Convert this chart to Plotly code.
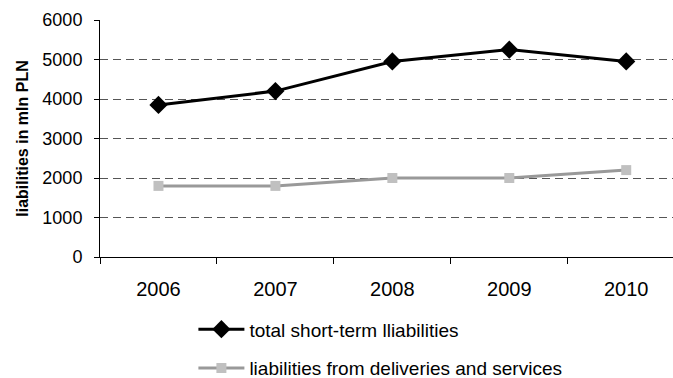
import plotly.graph_objects as go

years = ["2006", "2007", "2008", "2009", "2010"]
total_short_term = [3850, 4200, 4950, 5250, 4950]
deliveries_services = [1800, 1800, 2000, 2000, 2200]
y_ticks = [0, 1000, 2000, 3000, 4000, 5000, 6000]

FONT = "Liberation Sans, Arial, sans-serif"

fig = go.Figure()
fig.add_trace(go.Scatter(
    x=years, y=total_short_term, mode="lines+markers",
    name="total short-term lliabilities", legendgroup="a",
    line=dict(color="black", width=3),
    marker=dict(symbol="diamond", size=14, color="black"),
))
fig.add_trace(go.Scatter(
    x=years, y=deliveries_services, mode="lines+markers",
    name="liabilities from deliveries and services", legendgroup="b",
    line=dict(color="#999999", width=3),
    marker=dict(symbol="square", size=10, color="#c0c0c0"),
))

fig.update_layout(
    width=673, height=378,
    margin=dict(l=100, r=0, t=20, b=121, autoexpand=False),
    paper_bgcolor="white", plot_bgcolor="white",
    font=dict(family=FONT, size=18, color="black"),
    showlegend=True,
    legend=dict(
        x=0.163, y=-0.225, xanchor="left", yanchor="top",
        font=dict(size=19), tracegroupgap=11, itemwidth=46,
        bgcolor="rgba(0,0,0,0)",
    ),
)
fig.update_xaxes(
    type="category", range=[-0.5, 4.4], automargin=False,
    showline=True, linecolor="black", linewidth=1,
    ticks="outside", tickson="boundaries", ticklen=6, tickcolor="black",
    showgrid=False, tickfont=dict(size=20), ticklabelstandoff=14,
)
fig.update_yaxes(
    range=[0, 6000], tickvals=y_ticks, automargin=False,
    showline=True, linecolor="black", linewidth=1,
    ticks="outside", ticklen=5, tickcolor="black", ticklabelstandoff=8,
    showgrid=True, gridcolor="#555555", griddash="8px,5px", gridwidth=1,
    zeroline=False, tickfont=dict(size=18),
    title=dict(text="<b>liabilities in mln PLN</b>", font=dict(size=16), standoff=9),
)
fig.write_html("out.html")
